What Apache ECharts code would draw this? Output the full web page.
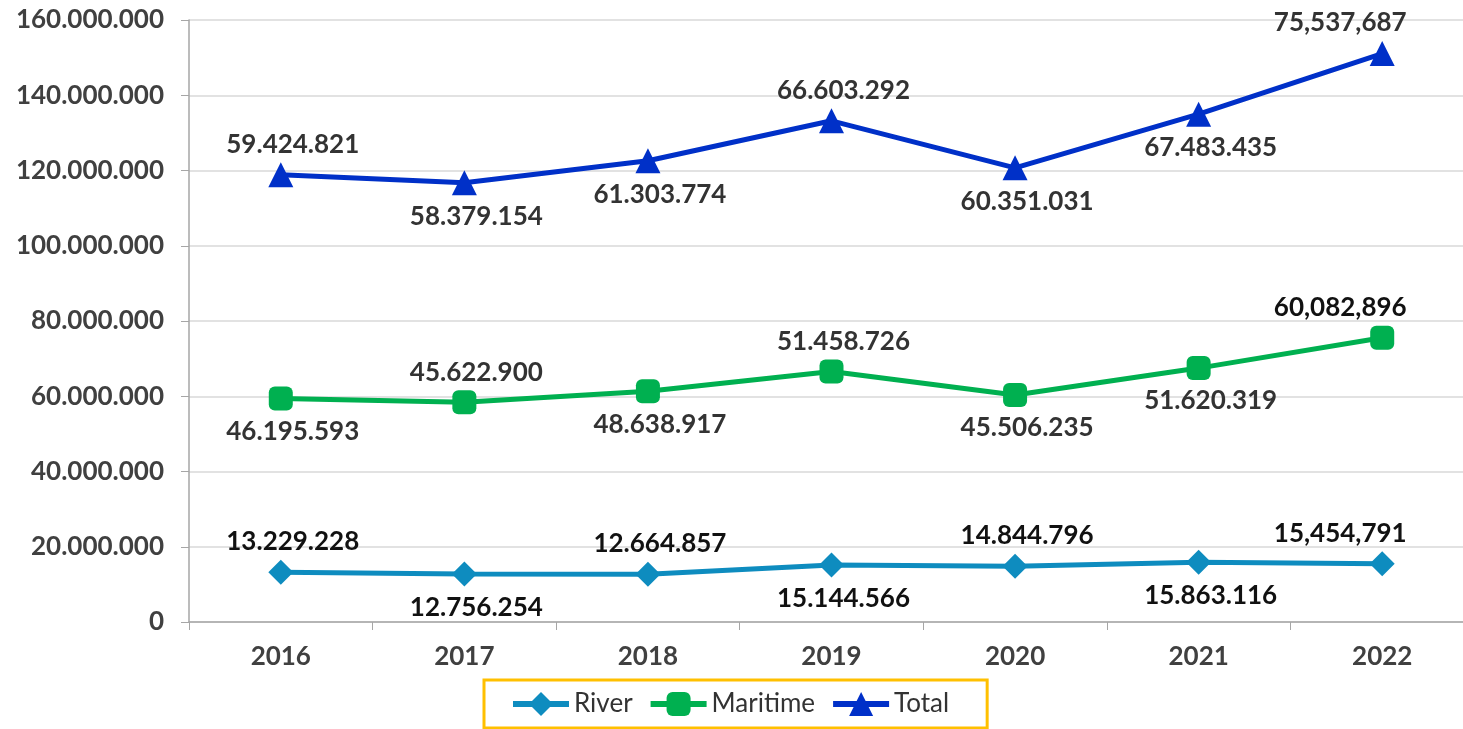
<!DOCTYPE html>
<html>
<head>
<meta charset="utf-8">
<title>River / Maritime / Total</title>
<script src="https://cdn.jsdelivr.net/npm/echarts@6/dist/echarts.min.js"></script>
<style>
  html, body { margin: 0; padding: 0; background: #fff; overflow: hidden; }
  #chart { width: 1476px; height: 729px; }
</style>
</head>
<body>
<div id="chart"></div>
<script>
// data
var years = ['2016', '2017', '2018', '2019', '2020', '2021', '2022'];
var river = [13229228, 12756254, 12664857, 15144566, 14844796, 15863116, 15454791];
var maritime = [46195593, 45622900, 48638917, 51458726, 45506235, 51620319, 60082896];
var total = [59424821, 58379154, 61303774, 66603292, 60351031, 67483435, 75537687];
var yTicks = [0, 20000000, 40000000, 60000000, 80000000, 100000000, 120000000, 140000000, 160000000];

// label placement (top / bottom), as in the original
var riverPos = ['top', 'bottom', 'top', 'bottom', 'top', 'bottom', 'top'];
var maritimePos = ['bottom', 'top', 'bottom', 'top', 'bottom', 'bottom', 'top'];
var totalPos = ['top', 'bottom', 'bottom', 'top', 'bottom', 'bottom', 'top'];

// the plot runs a little past the right edge of the picture, so the div is wider than the window
var chart = echarts.init(document.getElementById('chart'));

// 1.234.567 ; last year uses commas like the source
function fmt(v, sep) {
    return String(v).replace(/\B(?=(\d{3})+(?!\d))/g, sep);
}

function buildData(values, pos, color, lastColor) {
    return values.map(function (v, i) {
        var last = i === values.length - 1;
        return {
            value: v,
            label: {
                position: pos[i],
                distance: pos[i] === 'top' ? 5 : 8,
                offset: last ? [-42, 0] : [12, 0],
                color: last ? lastColor : color
            }
        };
    });
}

function makeSeries(name, values, pos, color, symbol, size, labelColor, lastColor) {
    return {
        name: name,
        type: 'line',
        stack: 'all',
        data: buildData(values, pos, labelColor, lastColor),
        symbol: symbol,
        symbolSize: size,
        lineStyle: { color: color, width: 5 },
        itemStyle: { color: color },
        label: {
            show: true,
            fontFamily: 'Lato',
            fontWeight: 'bold',
            fontSize: 26,
            formatter: function (p) {
                return fmt(p.value, p.dataIndex === values.length - 1 ? ',' : '.');
            }
        },
        emphasis: { disabled: true }
    };
}

var option = {
    animation: false,
    backgroundColor: '#fff',
    textStyle: { fontFamily: 'Lato' },
    grid: { left: 189, top: 20, width: 1285, height: 602 },
    legend: {
        left: 484,
        top: 680,
        padding: [11, 38, 11, 26],
        borderColor: '#FFC000',
        borderWidth: 3,
        itemWidth: 56,
        itemHeight: 30,
        itemGap: 15,
        lineStyle: { width: 6 },
        textStyle: { fontFamily: 'Lato', fontSize: 26, color: '#333' },
        data: ['River', 'Maritime', 'Total']
    },
    xAxis: {
        type: 'category',
        data: years,
        boundaryGap: true,
        axisLine: { lineStyle: { color: '#a6a6a6', width: 1.5 } },
        axisTick: { show: true, length: 8, lineStyle: { color: '#a6a6a6' } },
        axisLabel: { margin: 22, fontSize: 26, fontWeight: 'bold', color: '#404040', fontFamily: 'Lato' }
    },
    yAxis: {
        type: 'value',
        min: yTicks[0],
        max: yTicks[yTicks.length - 1],
        interval: yTicks[1] - yTicks[0],
        axisLine: { show: true, lineStyle: { color: '#a6a6a6', width: 1.5 } },
        axisTick: { show: true, length: 8, lineStyle: { color: '#a6a6a6' } },
        splitLine: { lineStyle: { color: '#d9d9d9', width: 1.5 } },
        axisLabel: {
            margin: 25,
            fontSize: 26,
            fontWeight: 'bold',
            color: '#404040',
            fontFamily: 'Lato',
            formatter: function (v) { return fmt(v, '.'); }
        }
    },
    series: [
        makeSeries('River', river, riverPos, '#0e8cbf', 'diamond', 25, '#111', '#111'),
        makeSeries('Maritime', maritime, maritimePos, '#00b050', 'roundRect', 24, '#333', '#111'),
        makeSeries('Total', total, totalPos, '#0030c8', 'triangle', 25, '#333', '#333')
    ]
};

chart.setOption(option);
</script>
</body>
</html>
